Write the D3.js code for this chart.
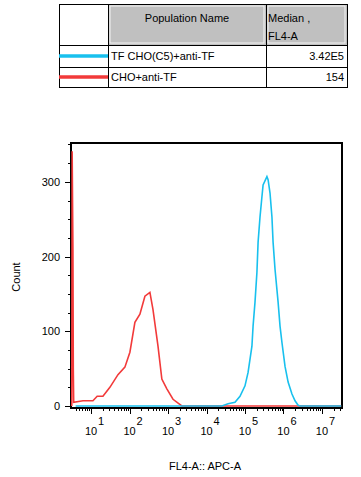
<!DOCTYPE html>
<html>
<head>
<meta charset="utf-8">
<script src="https://d3js.org/d3.v7.min.js"></script>
<style>
  body { margin: 0; background: #fff; }
  text { font-family: "Liberation Sans", Arial, sans-serif; fill: #000; }
</style>
</head>
<body>
<div id="chart"></div>
<script>
// populations shown in the table
var popNames = ["TF CHO(C5)+anti-TF", "CHO+anti-TF"];
var popColors = ["#18c0ee", "#f23a3a"];
var popMedians = ["3.42E5", "154"];

// histogram traces: x as log10 of FL4-A, y as count
var redLog =   [0.50, 0.51, 0.53, 0.54, 0.55, 0.79, 1.05, 1.16, 1.31, 1.49, 1.70, 1.88, 2.01, 2.14, 2.27, 2.40, 2.53, 2.61, 2.74, 2.84, 2.97, 3.13, 3.36, 7.50];
var redCount = [0,    341,  209,  49,   5,    7,    7,    13,   13,   25,   42,   52,   72,   112,  123,  147,  152,  129,  80,   36,   23,   9,    0,    0];

var blueLog =   [0.60, 4.40, 4.56, 4.74, 4.87, 5.00, 5.08, 5.18, 5.21, 5.26, 5.31, 5.34, 5.39, 5.44, 5.47, 5.57, 5.60, 5.65, 5.70, 5.73, 5.78, 5.86, 5.91, 5.96, 6.04, 6.12, 6.22, 6.30, 6.38, 6.43, 7.50];
var blueCount = [0,    0,    3,    5,    13,   27,   45,   80,   107,  139,  179,  219,  253,  280,  296,  307,  303,  285,  253,  219,  183,  139,  107,  85,   53,   32,   16,   7,    1,    0,    0];

var yTicks = [0, 100, 200, 300];
var xDecades = [1, 2, 3, 4, 5, 6, 7];

var W = 361, H = 477;
var svg = d3.select("#chart").append("svg")
    .attr("width", W).attr("height", H);

// ---- table ----
var tx = [59, 108, 266, 347];
var ty = [4, 45, 67, 87];
var tbl = svg.append("g");

// header grey cells
[1, 2].forEach(function(c) {
  tbl.append("rect").attr("x", tx[c]).attr("y", ty[0])
    .attr("width", tx[c+1] - tx[c]).attr("height", ty[1] - ty[0])
    .attr("fill", "#c0c0c0");
  tbl.append("rect").attr("x", tx[c] + 2).attr("y", ty[0] + 2)
    .attr("width", tx[c+1] - tx[c] - 4).attr("height", ty[1] - ty[0] - 4)
    .attr("fill", "none").attr("stroke", "#f4f4f4").attr("stroke-width", 1);
});

tbl.append("rect").attr("x", tx[0] + 0.5).attr("y", ty[0] + 0.5)
  .attr("width", tx[3] - tx[0]).attr("height", ty[3] - ty[0])
  .attr("fill", "none").attr("stroke", "#000");
[1, 2].forEach(function(c) {
  tbl.append("line").attr("x1", tx[c] + 0.5).attr("x2", tx[c] + 0.5)
    .attr("y1", ty[0]).attr("y2", ty[3]).attr("stroke", "#000");
});
[1, 2].forEach(function(r) {
  tbl.append("line").attr("x1", tx[0]).attr("x2", tx[3])
    .attr("y1", ty[r] + 0.5).attr("y2", ty[r] + 0.5).attr("stroke", "#000");
});

tbl.append("text").attr("x", (tx[1] + tx[2]) / 2).attr("y", 22)
  .attr("text-anchor", "middle").attr("font-size", 11).text("Population Name");
tbl.append("text").attr("x", tx[2] + 2).attr("y", 22)
  .attr("font-size", 11).text("Median ,");
tbl.append("text").attr("x", tx[2] + 2).attr("y", 40)
  .attr("font-size", 11).text("FL4-A");

popNames.forEach(function(n, i) {
  var rowMid = (ty[i+1] + ty[i+2]) / 2;
  tbl.append("line").attr("x1", tx[0]).attr("x2", tx[1])
    .attr("y1", rowMid).attr("y2", rowMid)
    .attr("stroke", popColors[i]).attr("stroke-width", 3.5);
  tbl.append("text").attr("x", tx[1] + 3).attr("y", rowMid + 4)
    .attr("font-size", 11).text(n);
  tbl.append("text").attr("x", tx[3] - 3).attr("y", rowMid + 4)
    .attr("text-anchor", "end").attr("font-size", 11).text(popMedians[i]);
});

// ---- histogram ----
var pl = 71, pr = 342, pt = 143, pb = 408;
var x = d3.scaleLog().domain([Math.pow(10, 0.48), Math.pow(10, 7.52)]).range([pl, pr]);
var y = d3.scaleLinear().domain([0, 352]).range([406, pt]);

var g = svg.append("g");

// frame
g.append("rect").attr("x", pl).attr("y", pt)
  .attr("width", pr - pl).attr("height", pb - pt)
  .attr("fill", "none").attr("stroke", "#000").attr("stroke-width", 2);

var line = d3.line()
  .x(function(d) { return x(Math.pow(10, d[0])); })
  .y(function(d) { return y(d[1]); });

g.append("path").datum(d3.zip(redLog, redCount))
  .attr("d", line).attr("fill", "none")
  .attr("stroke", popColors[1]).attr("stroke-width", 1.6);
g.append("path").datum(d3.zip(blueLog, blueCount))
  .attr("d", line).attr("fill", "none")
  .attr("stroke", popColors[0]).attr("stroke-width", 1.6);

// y ticks
d3.range(0, 351, 25).forEach(function(v) {
  var major = v % 100 === 0;
  var py = Math.round(y(v)) + 0.5;
  g.append("line").attr("x1", pl - (major ? 6 : 3)).attr("x2", pl)
    .attr("y1", py).attr("y2", py)
    .attr("stroke", "#000");
});
yTicks.forEach(function(v) {
  g.append("text").attr("x", pl - 11).attr("y", y(v) + 4)
    .attr("text-anchor", "end").attr("font-size", 11).text(v);
});

// x ticks (log minor ticks)
x.ticks().forEach(function(v) {
  var lg = Math.log10(v);
  var major = Math.abs(lg - Math.round(lg)) < 1e-9;
  var px = Math.round(x(v)) + 0.5;
  if (px < pl || px > pr) return;
  g.append("line").attr("x1", px).attr("x2", px)
    .attr("y1", pb).attr("y2", pb + (major ? 6 : 3))
    .attr("stroke", "#000");
});
xDecades.forEach(function(d) {
  var px = x(Math.pow(10, d));
  g.append("text").attr("x", px).attr("y", 435)
    .attr("text-anchor", "middle").attr("font-size", 11).text("10");
  g.append("text").attr("x", px + 7).attr("y", 425)
    .attr("font-size", 11).text(d);
});

svg.append("text").attr("transform", "translate(20,277) rotate(-90)")
  .attr("text-anchor", "middle").attr("font-size", 11).text("Count");
svg.append("text").attr("x", 205).attr("y", 470)
  .attr("text-anchor", "middle").attr("font-size", 11).text("FL4-A:: APC-A");
</script>
</body>
</html>
